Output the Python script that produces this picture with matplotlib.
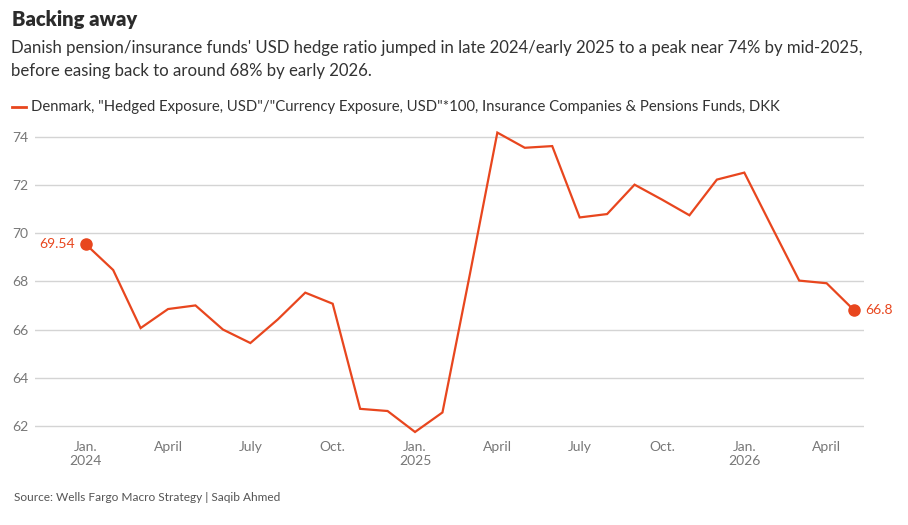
import numpy as np
import matplotlib
matplotlib.use('Agg')
import matplotlib.pyplot as plt

plt.rcParams['font.family'] = ['Lato', 'DejaVu Sans']

# monthly series, Jan 2024 .. May 2026
months = ['2024-01', '2024-02', '2024-03', '2024-04', '2024-05', '2024-06',
          '2024-07', '2024-08', '2024-09', '2024-10', '2024-11', '2024-12',
          '2025-01', '2025-02', '2025-03', '2025-04', '2025-05', '2025-06',
          '2025-07', '2025-08', '2025-09', '2025-10', '2025-11', '2025-12',
          '2026-01', '2026-02', '2026-03', '2026-04', '2026-05']
hedge_ratio = [69.54, 68.47, 66.06, 66.85, 67.00, 66.00,
               65.44, 66.42, 67.53, 67.07, 62.71, 62.62,
               61.75, 62.56, 68.30, 74.17, 73.54, 73.61,
               70.65, 70.79, 72.01, 71.39, 70.74, 72.22,
               72.51, 70.26, 68.03, 67.92, 66.80]
tick_months = ['2024-01', '2024-04', '2024-07', '2024-10', '2025-01', '2025-04',
               '2025-07', '2025-10', '2026-01', '2026-04']
tick_labels = ['Jan.\n2024', 'April', 'July', 'Oct.', 'Jan.\n2025', 'April',
               'July', 'Oct.', 'Jan.\n2026', 'April']
y_ticks = [62, 64, 66, 68, 70, 72, 74]

RED = '#E8461E'
GRID = '#d4d4d4'
TICK = '#777777'

x = np.arange(len(months))
tick_pos = [months.index(m) for m in tick_months]

fig = plt.figure(figsize=(9.08, 5.25), dpi=100)
ax = fig.add_axes([0.0385, 0.1657, 0.913, 0.5969])

ax.plot(x, hedge_ratio, color=RED, lw=1.6, solid_joinstyle='miter', zorder=3)
ax.plot([x[0], x[-1]], [hedge_ratio[0], hedge_ratio[-1]], 'o', color=RED, ms=8, zorder=4)
ax.annotate(f'{hedge_ratio[0]:.2f}', (x[0], hedge_ratio[0]), xytext=(-8, 0),
            textcoords='offset points', ha='right', va='center', color=RED, fontsize=10)
ax.annotate(f'{hedge_ratio[-1]:g}', (x[-1], hedge_ratio[-1]), xytext=(8, 0),
            textcoords='offset points', ha='left', va='center', color=RED, fontsize=10)

ax.set_xlim(-1.85, 28.36)
ax.set_ylim(61.5, 74.5)
ax.set_yticks(y_ticks)
ax.set_xticks(tick_pos)
ax.set_xticklabels(tick_labels, linespacing=1.2)
ax.tick_params(axis='both', length=0, colors=TICK, labelsize=10)
ax.tick_params(axis='x', pad=2)
ax.tick_params(axis='y', pad=5)
ax.grid(axis='y', color=GRID, lw=1)
ax.set_axisbelow(True)
for s in ax.spines.values():
    s.set_visible(False)

fig.text(0.013, 0.962, 'Backing away', fontsize=14.5, fontweight='heavy', color='#2b2b2b', va='center')
fig.text(0.012, 0.908, "Danish pension/insurance funds' USD hedge ratio jumped in late 2024/early 2025 to a peak near 74% by mid-2025,",
         fontsize=12.1, color='#333333', va='center')
fig.text(0.012, 0.865, 'before easing back to around 68% by early 2026.', fontsize=12.1, color='#333333', va='center')
fig.add_artist(plt.Line2D([0.013, 0.029], [0.796, 0.796], color=RED, lw=2))
fig.text(0.034, 0.796, 'Denmark, "Hedged Exposure, USD"/"Currency Exposure, USD"*100, Insurance Companies & Pensions Funds, DKK',
         fontsize=10.7, color='#333333', va='center')
fig.text(0.015, 0.053, 'Source: Wells Fargo Macro Strategy | Saqib Ahmed', fontsize=8.6, color='#555555', va='center')

fig.savefig('out.png', dpi=100)
